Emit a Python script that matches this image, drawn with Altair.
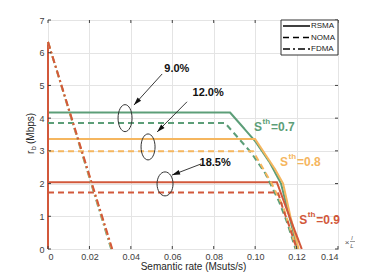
import altair as alt
import pandas as pd

# ---------------- data ----------------
thresholds = ["0.7", "0.8", "0.9"]
colors = ["#5c9e78", "#f5b65f", "#d2583b"]
schemes = ["RSMA", "NOMA", "FDMA"]

rsma_07_x = [0, 0, 0.0879, 0.1, 0.107, 0.1125, 0.1165, 0.1205]
rsma_07_y = [6.33, 4.17, 4.17, 3.3, 2.65, 2.0, 1.0, 0]
rsma_08_x = [0, 0, 0.1, 0.1095, 0.1135, 0.117, 0.121]
rsma_08_y = [6.33, 3.36, 3.36, 2.45, 2.0, 1.0, 0]
rsma_09_x = [0, 0, 0, 0.1105, 0.1165, 0.1225]
rsma_09_y = [0, 6.33, 2.04, 2.04, 1.0, 0]

noma_07_x = [0, 0.0855, 0.098, 0.105, 0.1116, 0.1155, 0.1195]
noma_07_y = [3.85, 3.85, 2.95, 2.3, 1.44, 0.8, 0]
noma_08_x = [0, 0.099, 0.108, 0.1135, 0.12]
noma_08_y = [2.99, 2.99, 2.0, 1.3, 0]
noma_09_x = [0, 0.111, 0.1135, 0.1165, 0.1201]
noma_09_y = [1.73, 1.73, 1.22, 0.7, 0]

fdma_07_x = [0, 0.0305]
fdma_07_y = [6.33, 0]
fdma_08_x = [0, 0.0308]
fdma_08_y = [6.33, 0]
fdma_09_x = [0, 0.031]
fdma_09_y = [6.33, 0]

x_ticks = [0, 0.02, 0.04, 0.06, 0.08, 0.1, 0.12, 0.14]
y_ticks = [0, 1, 2, 3, 4, 5, 6, 7]

gain_labels = ["9.0%", "12.0%", "18.5%"]
gain_x = [0.0622, 0.0773, 0.0807]
gain_y = [5.5, 4.77, 2.63]
arrow_x0 = [0.0551, 0.0671, 0.0739]
arrow_y0 = [5.35, 4.5, 2.6]
arrow_x1 = [0.0415, 0.0527, 0.0599]
arrow_y1 = [4.4, 3.58, 2.26]
arrow_angle = [222, 225, 249]
ellipse_x = [0.0372, 0.0483, 0.0565]
ellipse_y = [4.0, 3.12, 1.99]
ellipse_w = [14, 14, 16]
ellipse_h = [27, 26, 24]

sth_x = [0.0995, 0.112, 0.1213]
sth_y = [3.73, 2.66, 0.89]

# ---------------- tables ----------------
series = [
    ("RSMA", "0.7", rsma_07_x, rsma_07_y), ("RSMA", "0.8", rsma_08_x, rsma_08_y),
    ("RSMA", "0.9", rsma_09_x, rsma_09_y),
    ("NOMA", "0.7", noma_07_x, noma_07_y), ("NOMA", "0.8", noma_08_x, noma_08_y),
    ("NOMA", "0.9", noma_09_x, noma_09_y),
    ("FDMA", "0.7", fdma_07_x, fdma_07_y), ("FDMA", "0.8", fdma_08_x, fdma_08_y),
    ("FDMA", "0.9", fdma_09_x, fdma_09_y),
]
rows = []
for scheme, th, xs, ys in series:
    for i, (xv, yv) in enumerate(zip(xs, ys)):
        rows.append({"x": xv, "y": yv, "scheme": scheme, "th": th,
                     "grp": scheme + th, "o": i})
df = pd.DataFrame(rows)

W, H = 290, 229
xsc = alt.Scale(domain=[0, 0.14], nice=False)
ysc = alt.Scale(domain=[0, 7], nice=False)
csc = alt.Scale(domain=thresholds, range=colors)
dsc = alt.Scale(domain=schemes, range=[[1, 0], [6, 4], [7, 3, 2, 3]])
FONT = "Liberation Sans"

x_axis = alt.Axis(values=x_ticks, grid=True, gridColor="#e4e4e4",
                  domain=False, ticks=False, labelPadding=3,
                  labelFontSize=9, labelColor="#404040", labelOverlap=False,
                  titleFontSize=10, titleFontWeight="normal",
                  titleColor="#262626", titlePadding=0, labelFont=FONT,
                  titleFont=FONT, title="Semantic rate (Msuts/s)",
                  labelExpr="datum.value == 0 ? '0' : format(datum.value, '.2f')")
y_axis = alt.Axis(values=y_ticks, grid=True, gridColor="#e4e4e4",
                  domain=False, ticks=False, labelPadding=4, title=None,
                  labelOverlap=False, labelFlush=False,
                  labelFontSize=9, labelColor="#404040", labelFont=FONT)


def X(field):
    return alt.X(field, type="quantitative", scale=xsc, axis=x_axis)


def Y(field):
    return alt.Y(field, type="quantitative", scale=ysc, axis=y_axis)


lines = alt.Chart(df).mark_line(strokeWidth=2).encode(
    x=X("x"), y=Y("y"),
    color=alt.Color("th:N", scale=csc, legend=None),
    strokeDash=alt.StrokeDash("scheme:N", scale=dsc, legend=None),
    detail="grp:N", order="o:Q",
)

# inner ticks
xt = pd.DataFrame({"x": x_ticks})
yt = pd.DataFrame({"y": y_ticks})
tick_b = alt.Chart(xt).mark_rule(color="#404040").encode(
    x=X("x"), y=alt.value(H), y2=alt.value(H - 3))
tick_t = alt.Chart(xt).mark_rule(color="#404040").encode(
    x=X("x"), y=alt.value(0), y2=alt.value(3))
tick_l = alt.Chart(yt).mark_rule(color="#404040").encode(
    y=Y("y"), x=alt.value(0), x2=alt.value(3))
tick_r = alt.Chart(yt).mark_rule(color="#404040").encode(
    y=Y("y"), x=alt.value(W), x2=alt.value(W - 3))

# annotations
ann = pd.DataFrame({"label": gain_labels, "x": gain_x, "y": gain_y,
                    "x0": arrow_x0, "y0": arrow_y0, "x1": arrow_x1, "y1": arrow_y1,
                    "ang": arrow_angle})
gain_text = alt.Chart(ann).mark_text(fontSize=11, fontWeight="bold", font=FONT,
                                     color="#111").encode(
    x=X("x"), y=Y("y"), text="label:N")
arrow_line = alt.Chart(ann).mark_rule(color="#222", strokeWidth=0.9).encode(
    x=X("x0"), y=Y("y0"), x2="x1:Q", y2="y1:Q")
arrow_head = alt.Chart(ann).mark_point(
    shape="M0,0 L0.6,2 L-0.6,2 Z", filled=True, color="#111", size=64, opacity=1
).encode(x=X("x1"), y=Y("y1"), angle=alt.Angle("ang:Q", scale=None))

ellipses = []
for ex, ey, ew, eh in zip(ellipse_x, ellipse_y, ellipse_w, ellipse_h):
    a = ew / eh
    path = f"M{-a},0 A{a},1 0 1,1 {a},0 A{a},1 0 1,1 {-a},0 Z"
    ellipses.append(
        alt.Chart(pd.DataFrame({"x": [ex], "y": [ey]})).mark_point(
            shape=path, filled=False, stroke="#333", strokeWidth=1, size=eh * eh,
            opacity=1
        ).encode(x=X("x"), y=Y("y"))
    )

sth = pd.DataFrame({"x": sth_x, "y": sth_y, "th": thresholds,
                    "rest": ["=" + t for t in thresholds]})
s_main = alt.Chart(sth).mark_text(align="left", baseline="middle", fontSize=12,
                                  fontWeight="bold", font=FONT).encode(
    x=X("x"), y=Y("y"),
    text=alt.value("S"), color=alt.Color("th:N", scale=csc, legend=None))
s_sup = alt.Chart(sth).mark_text(align="left", baseline="middle", fontSize=8,
                                 fontWeight="bold", font=FONT, dx=8.5, dy=-5).encode(
    x=X("x"), y=Y("y"),
    text=alt.value("th"), color=alt.Color("th:N", scale=csc, legend=None))
s_rest = alt.Chart(sth).mark_text(align="left", baseline="middle", fontSize=12,
                                  fontWeight="bold", font=FONT, dx=17).encode(
    x=X("x"), y=Y("y"),
    text="rest:N", color=alt.Color("th:N", scale=csc, legend=None))

# legend box
one = alt.Data(values=[{"a": 1}])
leg_box = alt.Chart(one).mark_rect(fill="white", stroke="#333", strokeWidth=1).encode(
    x=alt.value(233), x2=alt.value(W), y=alt.value(0), y2=alt.value(35))
leg_items = []
for i, (name, dash) in enumerate(zip(schemes, [[1, 0], [6, 4], [7, 3, 2, 3]])):
    yy = 6 + i * 11.5
    leg_items.append(alt.Chart(one).mark_rule(color="black", strokeWidth=1.6,
                                              strokeDash=dash).encode(
        x=alt.value(235), x2=alt.value(262), y=alt.value(yy)))
    leg_items.append(alt.Chart(one).mark_text(align="left", baseline="middle",
                                              fontSize=8, font=FONT,
                                              color="#222").encode(
        x=alt.value(263), y=alt.value(yy), text=alt.value(name)))

# y-axis title r_b (Mbps)
ytitle = [
    alt.Chart(one).mark_text(angle=270, align="left", baseline="middle", fontSize=10,
                             font=FONT, color="#262626").encode(
        x=alt.value(-17), y=alt.value(134), text=alt.value("r")),
    alt.Chart(one).mark_text(angle=270, align="left", baseline="middle", fontSize=7,
                             font=FONT, color="#262626").encode(
        x=alt.value(-14), y=alt.value(130), text=alt.value("b")),
    alt.Chart(one).mark_text(angle=270, align="left", baseline="middle", fontSize=10,
                             font=FONT, color="#262626").encode(
        x=alt.value(-17), y=alt.value(124), text=alt.value("(Mbps)")),
]

# x multiplier  × l/L
xmul = [
    alt.Chart(one).mark_text(fontSize=8, font=FONT, color="#555").encode(
        x=alt.value(299), y=alt.value(223), text=alt.value("×")),
    alt.Chart(one).mark_text(fontSize=6, font=FONT, fontStyle="italic",
                             color="#555").encode(
        x=alt.value(304), y=alt.value(218), text=alt.value("l")),
    alt.Chart(one).mark_rule(color="#555", strokeWidth=0.6).encode(
        x=alt.value(302), x2=alt.value(307), y=alt.value(221.5)),
    alt.Chart(one).mark_text(fontSize=6, font=FONT, fontStyle="italic",
                             color="#555").encode(
        x=alt.value(304), y=alt.value(226), text=alt.value("L")),
]

chart = alt.layer(
    lines, tick_b, tick_t, tick_l, tick_r,
    *ellipses, arrow_line, arrow_head, gain_text,
    s_main, s_sup, s_rest,
    leg_box, *leg_items, *ytitle, *xmul,
).properties(
    width=W, height=H,
    autosize=alt.AutoSizeParams(type="none"),
    padding={"left": 40, "top": 12, "right": 22, "bottom": 23},
    background="white",
).configure_view(stroke="#333", strokeWidth=1)

chart.save("out.html", embed_options={"renderer": "svg", "actions": False})
